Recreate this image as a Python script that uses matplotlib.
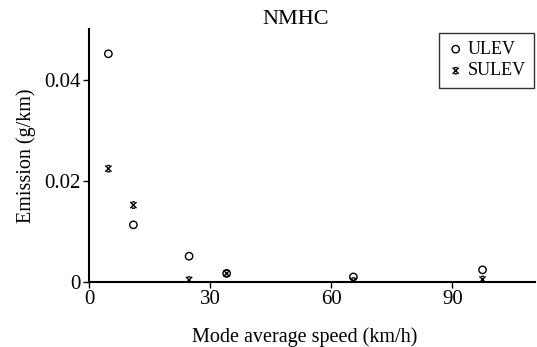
import matplotlib.pyplot as plt
from matplotlib.path import Path

# data
speed = [4.8, 11.0, 24.8, 34.1, 65.5, 97.5]
ulev = [0.0451, 0.0113, 0.0051, 0.0017, 0.0010, 0.0024]
sulev = [0.0224, 0.0152, 0.0004, 0.0017, 0.0002, 0.0005]
xticks = [0, 30, 60, 90]
yticks = [0, 0.02, 0.04]
yticklabels = ['0', '0.02', '0.04']

plt.rcParams['font.family'] = ['Liberation Serif', 'DejaVu Serif']

# asterisk-like marker: an x with short caps top and bottom
star = Path(
    [(-1, -1), (1, 1), (-1, 1), (1, -1), (-0.5, 1), (0.5, 1), (-0.5, -1), (0.5, -1)],
    [Path.MOVETO, Path.LINETO] * 4,
)

fig = plt.figure(figsize=(5.37, 3.47), dpi=100)
ax = fig.add_axes([89 / 537, 1 - 282 / 347, 446 / 537, 253 / 347])

ax.scatter(speed, ulev, marker='o', s=28, facecolors='none', edgecolors='black',
           linewidths=1.0, label='ULEV', zorder=3)
ax.scatter(speed, sulev, marker=star, s=20, facecolors='none', edgecolors='black',
           linewidths=1.0, label='SULEV', zorder=3)

ax.set_xlim(0, 110.5)
ax.set_ylim(0, 0.05)
ax.set_xticks(xticks)
ax.set_yticks(yticks)
ax.set_yticklabels(yticklabels)
ax.spines['top'].set_visible(False)
ax.spines['right'].set_visible(False)
ax.spines['left'].set_linewidth(1.5)
ax.spines['bottom'].set_linewidth(1.5)
ax.tick_params(direction='out', length=4, width=1, labelsize=15, pad=2)

ax.set_title('NMHC', x=0.464, fontsize=16, pad=3)
ax.set_xlabel('Mode average speed (km/h)', fontsize=14.5)
ax.xaxis.set_label_coords(0.483, -0.18)
ax.set_ylabel('Emission (g/km)', fontsize=14.5, labelpad=6)

leg = ax.legend(loc='upper right', bbox_to_anchor=(0.997, 0.985), frameon=True,
                fancybox=False, edgecolor='black', handletextpad=0.2,
                handlelength=0.9, borderpad=0.45, labelspacing=0.25,
                borderaxespad=0.0, fontsize=13)
leg.get_frame().set_linewidth(1.0)

plt.savefig('out.png', dpi=100)
